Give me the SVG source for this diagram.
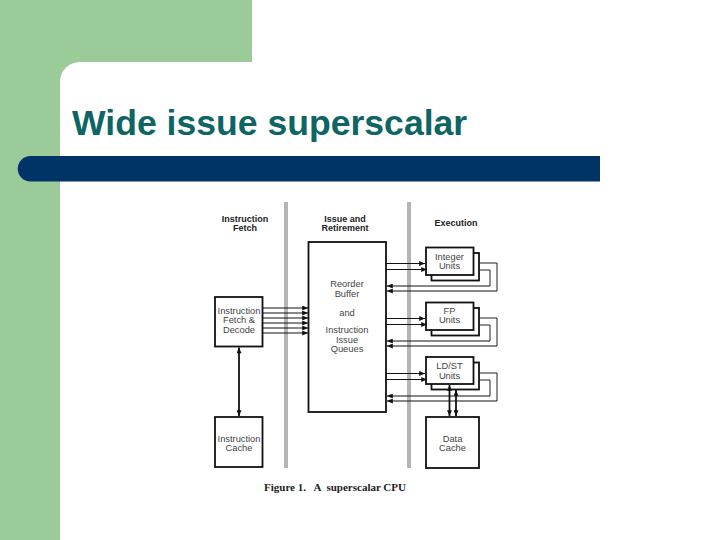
<svg xmlns="http://www.w3.org/2000/svg" width="720" height="540" viewBox="0 0 720 540">
<defs>
<marker id="ah" viewBox="0 0 7 6" refX="7" refY="3" markerWidth="7" markerHeight="5" markerUnits="userSpaceOnUse" orient="auto-start-reverse">
<path d="M0,0 L7,3 L0,6 Z" fill="#111"/>
</marker>
<style>
.box{fill:#fff;stroke:#111;stroke-width:1.8}
.lbl{font-family:"Liberation Sans",Arial,sans-serif;font-size:9.3px;fill:#444;text-anchor:middle}
.hdr{font-family:"Liberation Sans",Arial,sans-serif;font-size:9px;font-weight:bold;fill:#222;text-anchor:middle}
.bar{fill:#b5b5b5}
.ln{fill:none;stroke:#222;stroke-width:1}
.arr{fill:none;stroke:#111;stroke-width:1;marker-end:url(#ah)}
.dbl{fill:none;stroke:#111;stroke-width:1.8;marker-start:url(#ah);marker-end:url(#ah)}
</style>
</defs>
<rect width="720" height="540" fill="#fff"/>
<path d="M0,0 H252 V62 H80 A20,20 0 0 0 60,82 V540 H0 Z" fill="#9ccb9a"/>
<path d="M30.5,156 H600 V181.5 H30.5 A12.75,12.75 0 0 1 30.5,156 Z" fill="#003366"/>
<text x="72" y="135" font-family="Liberation Sans,Arial,sans-serif" font-size="35.6" font-weight="bold" fill="#0f6464">Wide issue superscalar</text>

<g id="dividers">
<rect class="bar" x="284" y="202" width="4" height="266"/>
<rect class="bar" x="407" y="202" width="4" height="266"/>
</g>

<g id="headers">
<text class="hdr" x="245" y="221.5">Instruction</text>
<text class="hdr" x="245" y="231">Fetch</text>
<text class="hdr" x="345" y="221.5">Issue and</text>
<text class="hdr" x="345" y="231">Retirement</text>
<text class="hdr" x="456" y="225.5">Execution</text>
</g>

<g id="fetch">
<rect class="box" x="215" y="297" width="47.5" height="49.5"/>
<text class="lbl" x="239" y="314.3">Instruction</text>
<text class="lbl" x="239" y="323.3">Fetch &amp;</text>
<text class="lbl" x="239" y="332.5">Decode</text>
</g>

<g id="icache">
<rect class="box" x="215" y="417" width="47.5" height="50"/>
<text class="lbl" x="239" y="441.5">Instruction</text>
<text class="lbl" x="239" y="451">Cache</text>
</g>

<g id="rob">
<rect class="box" x="308.5" y="242" width="77.5" height="170"/>
<text class="lbl" x="347" y="286.5">Reorder</text>
<text class="lbl" x="347" y="296.5">Buffer</text>
<text class="lbl" x="347" y="315.5">and</text>
<text class="lbl" x="347" y="333.2">Instruction</text>
<text class="lbl" x="347" y="342.5">Issue</text>
<text class="lbl" x="347" y="351.5">Queues</text>
</g>

<g id="intunits">
<rect class="box" x="431.5" y="253" width="47.5" height="27.5"/>
<rect class="box" x="426" y="247.5" width="47.5" height="27.5"/>
<text class="lbl" x="449.5" y="260">Integer</text>
<text class="lbl" x="449.5" y="269.3">Units</text>
</g>

<g id="fpunits">
<rect class="box" x="431.5" y="308" width="47.5" height="27.5"/>
<rect class="box" x="426" y="302.5" width="47.5" height="27.5"/>
<text class="lbl" x="449.5" y="313.5">FP</text>
<text class="lbl" x="449.5" y="323.3">Units</text>
</g>

<g id="ldstunits">
<rect class="box" x="431.5" y="362.5" width="47.5" height="27"/>
<rect class="box" x="426" y="357" width="47.5" height="27"/>
<text class="lbl" x="449.5" y="369.3">LD/ST</text>
<text class="lbl" x="449.5" y="379">Units</text>
</g>

<g id="dcache">
<rect class="box" x="426" y="417" width="53" height="51"/>
<text class="lbl" x="452.5" y="441.5">Data</text>
<text class="lbl" x="452.5" y="451">Cache</text>
</g>

<g id="connectors">
<path class="arr" d="M263,308 H308"/>
<path class="arr" d="M263,313 H308"/>
<path class="arr" d="M263,318 H308"/>
<path class="arr" d="M263,323 H308"/>
<path class="arr" d="M263,328 H308"/>
<path class="arr" d="M263,333 H308"/>
<path class="dbl" d="M239,347.5 V416"/>

<path class="arr" d="M386,263.5 H425"/>
<path class="arr" d="M386,269.5 H427"/>
<path class="ln" d="M479,263 H497 V291"/>
<path class="arr" d="M497,291 H387"/>
<path class="ln" d="M479,270 H490 V286"/>
<path class="arr" d="M490,286 H387"/>

<path class="arr" d="M386,318.5 H425"/>
<path class="arr" d="M386,324.5 H427"/>
<path class="ln" d="M479,318 H497 V346"/>
<path class="arr" d="M497,346 H387"/>
<path class="ln" d="M479,325 H490 V341"/>
<path class="arr" d="M490,341 H387"/>

<path class="arr" d="M386,373.5 H425"/>
<path class="arr" d="M386,379.5 H427"/>
<path class="ln" d="M479,373 H497 V401"/>
<path class="arr" d="M497,401 H387"/>
<path class="ln" d="M479,380 H490 V396"/>
<path class="arr" d="M490,396 H387"/>

<path class="dbl" d="M449.5,385 V416"/>
<path class="dbl" d="M456,390 V416"/>
</g>

<text x="335" y="491" font-family="Liberation Serif,Times New Roman,serif" font-size="11" font-weight="bold" fill="#222" text-anchor="middle" xml:space="preserve">Figure 1.   A  superscalar CPU</text>
</svg>
